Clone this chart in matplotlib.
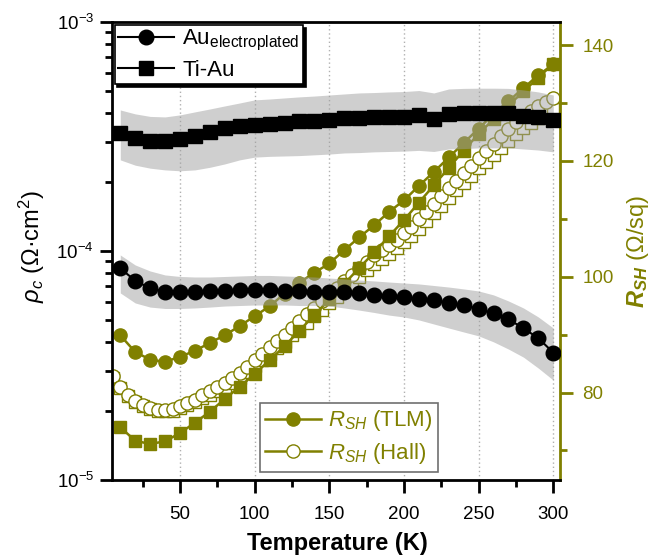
import matplotlib
matplotlib.use('Agg')
import matplotlib.pyplot as plt
from matplotlib.lines import Line2D
from matplotlib.ticker import MultipleLocator, LogLocator, NullFormatter

plt.rcParams['font.family'] = ['Liberation Sans', 'DejaVu Sans']
plt.rcParams['mathtext.fontset'] = 'custom'
plt.rcParams['mathtext.rm'] = 'Liberation Sans'
plt.rcParams['mathtext.it'] = 'Liberation Sans:italic'
plt.rcParams['mathtext.bf'] = 'Liberation Sans:bold'
plt.rcParams['mathtext.bfit'] = 'Liberation Sans:italic:bold'

# ---------------- data ----------------
T_tlm = [10, 20, 30, 40, 50, 60, 70, 80, 90, 100, 110, 120, 130, 140, 150,
         160, 170, 180, 190, 200, 210, 220, 230, 240, 250, 260, 270, 280, 290, 300]

# specific contact resistivity (Ohm cm^2), left axis
rho_au = [8.40e-5, 7.42e-5, 6.87e-5, 6.64e-5, 6.60e-5, 6.60e-5, 6.69e-5, 6.69e-5, 6.76e-5, 6.76e-5,
          6.76e-5, 6.71e-5, 6.69e-5, 6.64e-5, 6.60e-5, 6.60e-5, 6.54e-5, 6.43e-5, 6.36e-5, 6.28e-5,
          6.19e-5, 6.11e-5, 5.94e-5, 5.81e-5, 5.58e-5, 5.34e-5, 5.03e-5, 4.60e-5, 4.16e-5, 3.60e-5]
rho_au_hi = [9.61e-5, 8.69e-5, 8.18e-5, 7.86e-5, 7.74e-5, 7.70e-5, 7.70e-5, 7.74e-5, 7.78e-5, 7.82e-5,
             7.82e-5, 7.78e-5, 7.74e-5, 7.70e-5, 7.62e-5, 7.55e-5, 7.47e-5, 7.40e-5, 7.32e-5, 7.25e-5,
             7.18e-5, 7.07e-5, 6.96e-5, 6.83e-5, 6.69e-5, 6.43e-5, 6.05e-5, 5.64e-5, 5.15e-5, 4.61e-5]
rho_au_lo = [6.56e-5, 5.93e-5, 5.69e-5, 5.61e-5, 5.61e-5, 5.64e-5, 5.69e-5, 5.75e-5, 5.78e-5, 5.81e-5,
             5.81e-5, 5.81e-5, 5.78e-5, 5.78e-5, 5.75e-5, 5.64e-5, 5.52e-5, 5.39e-5, 5.25e-5, 5.15e-5,
             5.00e-5, 4.80e-5, 4.61e-5, 4.43e-5, 4.26e-5, 4.01e-5, 3.73e-5, 3.44e-5, 3.08e-5, 2.73e-5]

rho_ti = [3.29e-4, 3.11e-4, 3.03e-4, 3.03e-4, 3.07e-4, 3.18e-4, 3.30e-4, 3.44e-4, 3.52e-4, 3.54e-4,
          3.59e-4, 3.63e-4, 3.69e-4, 3.71e-4, 3.73e-4, 3.80e-4, 3.82e-4, 3.84e-4, 3.85e-4, 3.86e-4,
          3.93e-4, 3.77e-4, 3.97e-4, 3.99e-4, 3.99e-4, 3.99e-4, 3.99e-4, 3.89e-4, 3.84e-4, 3.73e-4]
rho_ti_hi = [4.13e-4, 3.97e-4, 3.87e-4, 3.85e-4, 3.93e-4, 4.05e-4, 4.17e-4, 4.30e-4, 4.43e-4, 4.57e-4,
             4.61e-4, 4.66e-4, 4.71e-4, 4.75e-4, 4.80e-4, 4.85e-4, 4.90e-4, 4.92e-4, 4.95e-4, 4.97e-4,
             5.02e-4, 4.90e-4, 5.10e-4, 5.13e-4, 5.14e-4, 5.14e-4, 5.13e-4, 5.05e-4, 4.95e-4, 4.80e-4]
rho_ti_lo = [2.50e-4, 2.37e-4, 2.30e-4, 2.26e-4, 2.24e-4, 2.26e-4, 2.32e-4, 2.40e-4, 2.50e-4, 2.57e-4,
             2.59e-4, 2.60e-4, 2.61e-4, 2.63e-4, 2.65e-4, 2.68e-4, 2.69e-4, 2.71e-4, 2.72e-4, 2.73e-4,
             2.75e-4, 2.72e-4, 2.79e-4, 2.80e-4, 2.82e-4, 2.82e-4, 2.82e-4, 2.79e-4, 2.76e-4, 2.71e-4]

# sheet resistance (Ohm/sq), right axis
rsh_tlm_au = [89.9, 87.0, 85.7, 85.3, 86.2, 87.2, 88.6, 89.9, 91.5, 93.2,
              94.9, 97.1, 99.0, 100.7, 102.3, 104.6, 106.8, 108.9, 111.2, 113.2,
              115.7, 118.1, 120.6, 123.1, 125.6, 128.1, 130.3, 132.6, 134.8, 136.7]
rsh_tlm_ti = [74.0, 71.7, 71.1, 71.6, 73.0, 74.8, 76.7, 78.9, 81.0, 83.2,
              85.6, 88.0, 90.7, 93.4, 96.1, 98.8, 101.5, 104.2, 107.0, 109.8,
              112.8, 115.8, 118.8, 121.8, 124.7, 127.2, 129.6, 132.0, 134.4, 136.8]

T_hall = [5, 10, 15, 20, 25, 30, 35, 40, 45, 50, 55, 60, 65, 70, 75, 80, 85, 90, 95, 100,
          105, 110, 115, 120, 125, 130, 135, 140, 145, 150, 155, 160, 165, 170, 175, 180, 185, 190, 195, 200,
          205, 210, 215, 220, 225, 230, 235, 240, 245, 250, 255, 260, 265, 270, 275, 280, 285, 290, 295, 300]
rsh_hall_au = [82.9, 81.0, 79.6, 78.6, 77.8, 77.3, 77.0, 77.0, 77.2, 77.6, 78.2, 78.8, 79.5, 80.2, 81.0,
               81.7, 82.5, 83.3, 84.4, 85.6, 86.7, 87.8, 88.9, 90.0, 91.1, 92.3, 93.5, 94.6, 95.8, 96.9,
               98.0, 99.2, 100.3, 101.5, 102.6, 103.7, 104.6, 105.5, 106.4, 107.5, 108.6, 109.9, 111.2, 112.6,
               114.0, 115.3, 116.6, 117.9, 119.2, 120.5, 121.7, 123.0, 124.3, 125.6, 126.7, 127.8, 128.7,
               129.5, 130.2, 130.8]
rsh_hall_ti = [82.6, 80.8, 79.4, 78.4, 77.6, 77.1, 76.8, 76.8, 76.9, 77.3, 77.8, 78.4, 79.0, 79.6, 80.3,
               81.0, 81.7, 82.5, 83.5, 84.6, 85.6, 86.6, 87.7, 88.8, 89.9, 91.0, 92.1, 93.2, 94.3, 95.4,
               96.5, 97.7, 98.8, 100.0, 101.1, 102.2, 103.1, 104.0, 105.0, 106.0, 107.1, 108.3, 109.6, 111.0,
               112.3, 113.6, 114.9, 116.2, 117.4, 118.7, 119.9, 121.1, 122.3, 123.5, 124.6, 125.7, 126.6,
               127.5, 128.3, 129.0]

x_ticks_major = 50
x_ticks_minor = 25

OLIVE = '#808000'

# ---------------- figure ----------------
fig = plt.figure(figsize=(6.51, 5.57), dpi=100)
ax = fig.add_axes([112 / 651, 77 / 557, 448 / 651, 458 / 557])
ax2 = ax.twinx()
ax.set_zorder(ax2.get_zorder() + 1)
ax.patch.set_visible(False)

# right axis (olive)
ax2.xaxis.set_visible(True)
ax2.tick_params(axis='x', which='both', bottom=False, top=False, labelbottom=False, labeltop=False)
ax2.grid(axis='x', which='major', color='#b0b0b0', linestyle=(0, (1, 2)), linewidth=1.0)
ax2.set_axisbelow(True)

ax2.plot(T_hall, rsh_hall_ti, '-s', color=OLIVE, mfc='white', mec=OLIVE, ms=9, mew=1.0, lw=1.3)
ax2.plot(T_hall, rsh_hall_au, '-o', color=OLIVE, mfc='white', mec=OLIVE, ms=9.5, mew=1.0, lw=1.3)
ax2.plot(T_tlm, rsh_tlm_ti, '-s', color=OLIVE, mfc=OLIVE, mec=OLIVE, ms=9, lw=1.8)
ax2.plot(T_tlm, rsh_tlm_au, '-o', color=OLIVE, mfc=OLIVE, mec=OLIVE, ms=9.5, lw=1.8)

ax2.set_ylim(64.9, 144.0)
ax2.yaxis.set_major_locator(MultipleLocator(20))
ax2.yaxis.set_minor_locator(MultipleLocator(10))
ax2.tick_params(axis='y', which='major', direction='out', length=9, width=2, colors=OLIVE,
                labelsize=13.5, pad=7)
ax2.tick_params(axis='y', which='minor', direction='out', length=5, width=2, colors=OLIVE)
for s in ['left', 'top', 'bottom']:
    ax2.spines[s].set_visible(False)
ax2.spines['right'].set_color(OLIVE)
ax2.spines['right'].set_linewidth(2)
ax2.set_ylabel(r'$\mathbfit{R}_{\mathbfit{SH}}$ (Ω/sq)', fontsize=17, color=OLIVE)
ax2.yaxis.set_label_coords(1.145, 0.5)

# left axis (black, log)
ax.fill_between(T_tlm, rho_ti_lo, rho_ti_hi, color='#a0a0a0', alpha=0.5, lw=0)
ax.fill_between(T_tlm, rho_au_lo, rho_au_hi, color='#a0a0a0', alpha=0.5, lw=0)
l_au, = ax.plot(T_tlm, rho_au, '-o', color='black', ms=10.5, lw=1.5, label=r'Au$_{\mathrm{electroplated}}$')
l_ti, = ax.plot(T_tlm, rho_ti, '-s', color='black', ms=10, lw=1.5, label='Ti-Au')

ax.set_yscale('log')
ax.set_ylim(1e-5, 1e-3)
ax.set_xlim(4.46, 304.5)
ax.xaxis.set_major_locator(MultipleLocator(x_ticks_major))
ax.xaxis.set_minor_locator(MultipleLocator(x_ticks_minor))
ax.yaxis.set_minor_locator(LogLocator(base=10, subs=[2, 3, 4, 5, 6, 7, 8, 9]))
ax.yaxis.set_minor_formatter(NullFormatter())
ax.tick_params(axis='both', which='major', direction='out', length=9, width=2, labelsize=13.5,
               top=False, right=False)
ax.tick_params(axis='both', which='minor', direction='out', length=5, width=2, top=False, right=False)
ax.tick_params(axis='x', which='major', pad=10)
ax.tick_params(axis='y', which='major', pad=4)
for s in ['left', 'top', 'bottom']:
    ax.spines[s].set_linewidth(2)
ax.spines['right'].set_visible(False)

ax.set_xlabel('Temperature (K)', fontsize=17, fontweight='bold')
ax.xaxis.set_label_coords(0.502, -0.113)
ax.set_ylabel(r'$\rho_c$ (Ω·cm$^2$)', fontsize=17)
ax.yaxis.set_label_coords(-0.145, 0.51)

leg1 = ax.legend(handles=[l_au, l_ti], loc='upper left', bbox_to_anchor=(0.006, 0.994),
                 borderaxespad=0, fontsize=16, handlelength=2.5, handletextpad=0.4,
                 borderpad=0.15, labelspacing=0.3, fancybox=False, framealpha=1,
                 edgecolor='black', shadow={'color': 'black', 'alpha': 1})
leg1.get_frame().set_linewidth(1.2)
ax.add_artist(leg1)

h_tlm = Line2D([], [], color=OLIVE, marker='o', mfc=OLIVE, mec=OLIVE, ms=9.5, lw=1.8)
h_hall = Line2D([], [], color=OLIVE, marker='o', mfc='white', mec=OLIVE, ms=9.5, mew=1.0, lw=1.8)
leg2 = ax.legend(handles=[h_tlm, h_hall], labels=[r'$R_{SH}$ (TLM)', r'$R_{SH}$ (Hall)'],
                 loc='lower left', bbox_to_anchor=(0.330, 0.018), borderaxespad=0, fontsize=16,
                 handlelength=2.5, handletextpad=0.3, borderpad=0.25, labelspacing=0.35,
                 fancybox=False, framealpha=1, edgecolor='#707070', labelcolor=OLIVE)
leg2.get_frame().set_linewidth(1.2)

fig.savefig('out.png', dpi=100)
